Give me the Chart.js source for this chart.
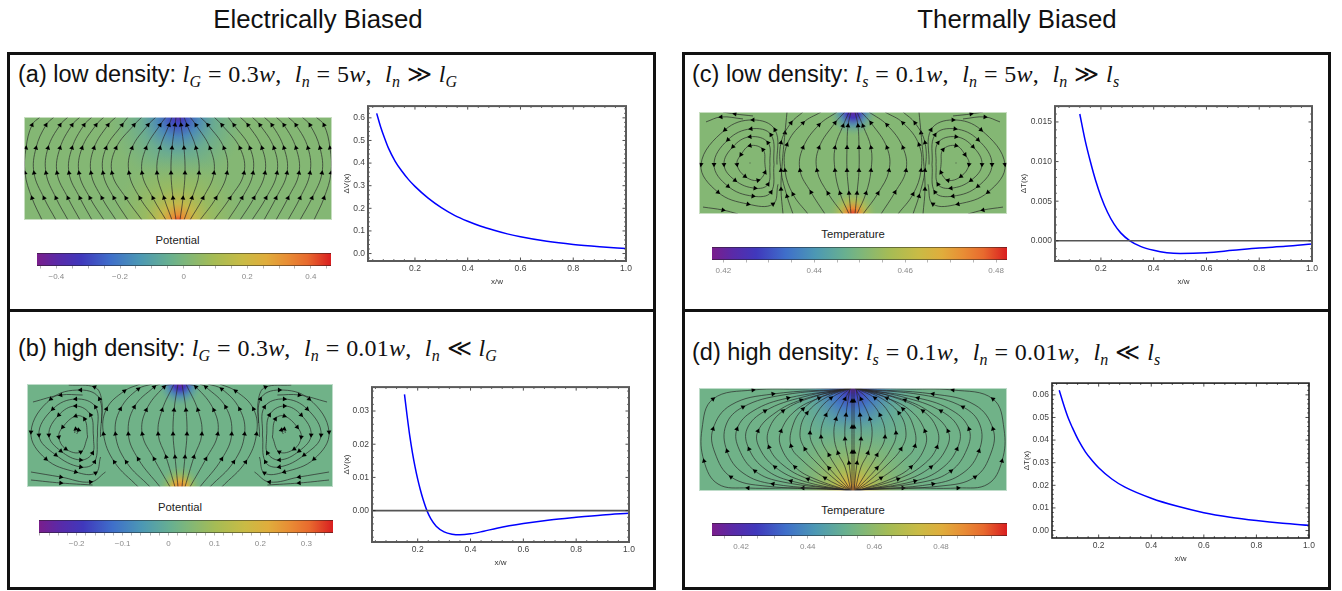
<!DOCTYPE html>
<html><head><meta charset="utf-8">
<script src="https://cdn.jsdelivr.net/npm/chart.js@4"></script>
<style>
html,body{margin:0;padding:0;background:#fff;overflow:hidden}
body{position:relative;width:1342px;height:591px;font-family:"Liberation Sans",Arial,sans-serif;color:#111}
.frame{position:absolute;border:3px solid #111;box-sizing:border-box}
.abs{position:absolute;white-space:pre}
.sec{font-size:25.8px;transform:translateX(-50%)}
.head{font-size:23.5px;line-height:26px}
.head .m{font-family:"Liberation Serif",serif;font-size:24px;letter-spacing:.2px;word-spacing:.5px}
.head i{font-style:italic}
.head sub{font-size:16px;font-style:italic;vertical-align:-5px;line-height:0}
.cbt{font-size:11.3px;transform:translateX(-50%);color:#222}
canvas{position:absolute;display:block}
</style></head><body>
<div class="abs sec" style="left:318px;top:5px">Electrically Biased</div>
<div class="abs sec" style="left:1017px;top:5px">Thermally Biased</div>
<div class="frame" style="left:7px;top:52px;width:649px;height:260px"></div>
<div class="frame" style="left:7px;top:309px;width:649px;height:281px"></div>
<div class="frame" style="left:682px;top:52px;width:649px;height:260px"></div>
<div class="frame" style="left:682px;top:309px;width:649px;height:281px"></div>
<div class="abs head" style="left:18px;top:61px">(a) low density: <span class="m"><i>l<sub>G</sub></i> = 0.3<i>w</i>,  <i>l<sub>n</sub></i> = 5<i>w</i>,  <i>l<sub>n</sub></i> ≫ <i>l<sub>G</sub></i></span></div>
<div class="abs head" style="left:18px;top:335px">(b) high density: <span class="m"><i>l<sub>G</sub></i> = 0.3<i>w</i>,  <i>l<sub>n</sub></i> = 0.01<i>w</i>,  <i>l<sub>n</sub></i> ≪ <i>l<sub>G</sub></i></span></div>
<div class="abs head" style="left:692px;top:61px">(c) low density: <span class="m"><i>l<sub>s</sub></i> = 0.1<i>w</i>,  <i>l<sub>n</sub></i> = 5<i>w</i>,  <i>l<sub>n</sub></i> ≫ <i>l<sub>s</sub></i></span></div>
<div class="abs head" style="left:692px;top:339px">(d) high density: <span class="m"><i>l<sub>s</sub></i> = 0.1<i>w</i>,  <i>l<sub>n</sub></i> = 0.01<i>w</i>,  <i>l<sub>n</sub></i> ≪ <i>l<sub>s</sub></i></span></div>
<div class="abs cbt" style="left:177.5px;top:234px">Potential</div>
<div class="abs cbt" style="left:180px;top:501px">Potential</div>
<div class="abs cbt" style="left:853px;top:228px">Temperature</div>
<div class="abs cbt" style="left:853px;top:504px">Temperature</div>
<script>
// ---------- curve values ----------
const aX=[.055,.07,.085,.1,.125,.15,.175,.2,.25,.3,.35,.4,.45,.5,.55,.6,.7,.8,.9,1];
const aY=[.62,.56,.51,.465,.408,.365,.328,.297,.245,.203,.169,.143,.121,.103,.087,.074,.054,.04,.03,.022];
const bX=[.15,.16,.17,.18,.19,.2,.21,.22,.235,.25,.27,.3,.33,.36,.4,.45,.5,.6,.7,.8,.9,1];
const bY=[.035,.0285,.0225,.0175,.0132,.0095,.0063,.0035,0,-.0025,-.0047,-.0064,-.0071,-.0073,-.007,-.0062,-.0053,-.0039,-.0028,-.002,-.0013,-.0008];
const cX=[.12,.14,.16,.18,.2,.225,.25,.275,.31,.35,.4,.45,.5,.6,.7,.8,.9,1];
const cY=[.016,.0127,.01,.0076,.0056,.0036,.0021,.0010,0,-.0007,-.0012,-.0015,-.0016,-.0015,-.0012,-.0009,-.0007,-.0004];
const dX=[.05,.07,.085,.1,.125,.15,.175,.2,.25,.3,.4,.5,.6,.7,.8,.9,1];
const dY=[.062,.0545,.0495,.0455,.0395,.0347,.031,.0278,.0228,.0192,.0143,.0107,.0079,.0059,.0044,.0032,.0023];
const xTicks=[.2,.4,.6,.8,1];
const aYTicks=[0,.1,.2,.3,.4,.5,.6];
const bYTicks=[0,.01,.02,.03];
const cYTicks=[0,.005,.01,.015];
const dYTicks=[0,.01,.02,.03,.04,.05,.06];
// ---------- colour-bar tick labels ----------
const aBarLabels=[-.4,-.2,0,.2,.4];
const bBarLabels=[-.2,-.1,0,.1,.2,.3];
const cBarLabels=[.42,.44,.46,.48];
const dBarLabels=[.42,.44,.46,.48];
// ---------- streamlines, half panel (x from centre, y from bottom; third value 0 = no arrowhead) ----------
const aStreams=[
[[2,0],[5,22],[7,47],[6,72],[3,95],[2,103]],
[[6,0],[14,22],[21,47],[18,72],[9,95],[6,103]],
[[12,0],[25,22],[36,47],[32,72],[18,95],[12,103]],
[[22,0],[38,22],[49,47],[46,72],[30,95],[22,103]],
[[36,0],[52,22],[66,47],[62,72],[44,95],[36,103]],
[[50,0],[64,22],[75,47],[72,72],[56,95],[50,103]],
[[62,0],[76,22],[87,47],[84,72],[70,95],[62,103]],
[[74,0],[88,22],[99,47],[96,72],[82,95],[74,103]],
[[86,0],[98,22],[109,47],[106,72],[94,95],[86,103]],
[[98,0],[110,22],[121,47],[118,72],[106,95],[98,103]],
[[110,0],[122,22],[132,47],[130,72],[118,95],[110,103]],
[[122,0],[134,22],[144,47],[142,72],[132,95],[124,103]],
[[136,0],[146,22],[153,47],[152,72],[146,95],[138,103]]];
const bStreams=[
[[2,0],[5,30],[7,53],[6,77],[2,103]],
[[5,0],[14,30],[22,53],[18,77],[6,103]],
[[10,0],[26,28],[38,53],[34,77],[16,100],[8,103]],
[[20,0],[42,28],[52,53],[46,80],[26,100],[20,103]],
[[30,0],[54,25],[65,53],[60,78],[42,98],[28,103]],
[[42,0],[66,25],[77,53],[74,78],[56,96],[40,103]],
[[104,53],[102,57],[105,58],[106,54]],
[[93,50],[96,68],[105,71],[118,60],[122,50],[115,38],[100,35],[93,50]],
[[87,50],[90,72],[105,81],[122,72],[132,52],[120,36],[100,27],[88,34],[87,50]],
[[83,52],[85,80],[105,88],[128,78],[142,52],[125,32],[100,20],[86,25],[83,52]],
[[80,50],[81,88],[100,97],[130,88],[150,55],[135,28],[105,15],[85,14],[80,30]],
[[79,64],[79,88,0],[86,100],[112,102]],
[[98,92],[120,92],[148,85]],
[[150,15],[120,10],[90,5],[75,15]],
[[150,7],[120,4],[88,2]]];
const cStreams=[
[[2,0],[4,21],[6,44],[6,67],[5,89],[2,103]],
[[4,0],[13,21],[18,44],[18,67],[10,89],[4,103]],
[[10,0],[25,21],[36,44],[34,67],[18,92],[8,103]],
[[28,0],[42,22],[53,44],[50,67],[34,90],[16,103]],
[[45,0],[60,20],[68,44],[66,70],[50,92],[32,103]],
[[60,0],[66,18],[72,44],[72,72],[62,92],[50,103]],
[[103,51],[103,52]],
[[88,50],[90,65],[103,69],[112,60],[116,50],[108,38],[95,34],[88,42],[88,50]],
[[83,50],[85,72],[103,78],[120,68],[129,50],[118,34],[98,26],[85,30],[83,50]],
[[79,50],[82,80],[102,86],[125,75],[139,50],[125,28],[100,18],[82,22],[79,50]],
[[76,50],[78,85],[100,95],[128,85],[152,50],[135,22],[105,10],[80,10],[75,30]],
[[70,0],[72,25],[71,48,0],[68,82],[66,103]],
[[100,99],[118,101],[130,103]],
[[110,96],[132,98],[147,93]],
[[150,7],[130,4],[115,0]]];
const dStreams=[
[[1,0],[1,39],[1,64],[1,90],[1,103]],
[[1,0],[4,28],[8,52],[7,76],[3,103]],
[[2,0],[8,24,0],[15,38],[19,55,0],[17,72],[8,92],[2,103]],
[[2,0],[13,18,0],[24,36],[32,54],[27,76],[13,94,0],[2,103]],
[[2,0],[24,23],[38,42,0],[43,58],[36,78,0],[22,93],[2,103]],
[[2,0],[16,10,0],[36,28,0],[48,42],[53,58,0],[46,78],[26,94,0],[2,103]],
[[2,0],[28,13],[50,30,0],[62,45],[60,66,0],[50,82],[30,95,0],[2,103]],
[[3,0],[38,12,0],[58,24],[72,44,0],[72,60],[58,80,0],[34,93],[3,103]],
[[3,0],[45,12],[70,26,0],[84,44],[84,62,0],[70,80],[40,94,0],[3,103]],
[[3,0],[50,10,0],[78,24],[94,44,0],[95,60],[78,78,0],[52,91],[3,103]],
[[3,0],[62,10],[88,22,0],[104,42],[106,62,0],[88,80],[50,94,0],[3,103]],
[[4,1],[70,9,0],[98,20],[114,42,0],[116,62],[100,80,0],[65,93],[4,102]],
[[4,1],[80,7],[110,18,0],[126,40],[127,66,0],[110,84],[70,96,0],[4,102]],
[[4,1],[88,5,0],[122,14],[138,38,0],[140,62],[122,86,0],[80,97],[4,102]],
[[4,1],[50,3],[105,3],[135,7,0],[149,30],[151,62,0],[140,92],[100,101],[50,102,0],[4,103]]];
// ---------- colour map ----------
const rainbow=[[0,'#7a1e8c'],[.07,'#5a2aa8'],[.15,'#4038bc'],[.25,'#3f6fca'],[.35,'#4c98b4'],[.45,'#68b090'],[.5,'#7cb67c'],[.6,'#a5bc55'],[.7,'#c9bb45'],[.78,'#e0ad3c'],[.85,'#e88e35'],[.92,'#e86a2e'],[1,'#d91e20']];
function hex(c){return [1,3,5].map(i=>parseInt(c.slice(i,i+2),16));}
function cm(t,a=1){
  let i=0;while(i<rainbow.length-2&&t>rainbow[i+1][0])i++;
  const [t0,c0]=rainbow[i],[t1,c1]=rainbow[i+1],f=Math.min(1,Math.max(0,(t-t0)/(t1-t0)));
  const A=hex(c0),B=hex(c1),m=A.map((v,k)=>Math.round(v+(B[k]-v)*f));
  return `rgba(${m[0]},${m[1]},${m[2]},${a})`;
}
function range(a,b,s){const o=[];const n=Math.round((b-a)/s);for(let i=0;i<=n;i++)o.push(+(a+i*s).toFixed(6));return o;}
Chart.defaults.font.family='"Liberation Sans",Arial,sans-serif';
Chart.defaults.animation=false;
function mk(left,top,w,h){const c=document.createElement('canvas');c.width=w;c.height=h;c.style.left=left+'px';c.style.top=top+'px';c.style.width=w+'px';c.style.height=h+'px';document.body.appendChild(c);return c;}
// ---------- line plots ----------
function plot(o){
  const yw=o.plotL-o.canL, W=o.plotR-o.plotL, H=o.plotB-o.plotT;
  const c=mk(o.canL,o.plotT-4,yw+W+12,H+4+27);
  const ds=[{data:o.x.map((v,i)=>({x:v,y:o.y[i]})),borderColor:'#0000ff',borderWidth:1.5,pointRadius:0,showLine:true,cubicInterpolationMode:'monotone'}];
  if(o.zero)ds.unshift({data:[{x:o.xmin,y:0},{x:1,y:0}],borderColor:'#555',borderWidth:1.6,pointRadius:0,showLine:true});
  const ticksPlugin={id:'frm',afterDraw(ch){
    const g=ch.ctx,a=ch.chartArea,sx=ch.scales.x,sy=ch.scales.y;
    g.save();g.strokeStyle='#222';g.lineWidth=.8;g.beginPath();
    const near=(v,l)=>l.some(q=>Math.abs(q-v)<1e-6);
    range(.04,1,.04).forEach(v=>{if(v<o.xmin)return;const p=sx.getPixelForValue(v),L=near(v,xTicks)?3.5:1.8;
      g.moveTo(p,a.bottom);g.lineTo(p,a.bottom-L);g.moveTo(p,a.top);g.lineTo(p,a.top+L);});
    o.yMinor.forEach(v=>{if(v<o.ymin||v>o.ymax)return;const p=sy.getPixelForValue(v),L=near(v,o.yTicks)?3.5:1.8;
      g.moveTo(a.left,p);g.lineTo(a.left+L,p);g.moveTo(a.right,p);g.lineTo(a.right-L,p);});
    g.stroke();g.strokeStyle=o.frame||'#5a5a5a';g.lineWidth=o.fw||2;g.strokeRect(a.left,a.top,a.right-a.left,a.bottom-a.top);g.restore();
  }};
  new Chart(c,{type:'scatter',data:{datasets:ds},plugins:[ticksPlugin],options:{responsive:false,
    layout:{autoPadding:false,padding:{left:0,top:4,right:12,bottom:0}},
    plugins:{legend:{display:false},tooltip:{enabled:false}},
    scales:{
      x:{type:'linear',min:o.xmin,max:1,afterFit:s=>{s.height=27;},afterBuildTicks:s=>{s.ticks=xTicks.map(v=>({value:v}));},
        grid:{display:false,drawTicks:false},border:{display:false},
        ticks:{padding:3,color:'#444',font:{size:8.5},autoSkip:false,maxRotation:0,callback:v=>v.toFixed(1)},
        title:{display:true,text:'x/w',color:'#333',font:{size:8},padding:{top:0,bottom:1}}},
      y:{type:'linear',min:o.ymin,max:o.ymax,afterFit:s=>{s.width=yw;},afterBuildTicks:s=>{s.ticks=o.yTicks.map(v=>({value:v}));},
        grid:{display:false,drawTicks:false},border:{display:false},
        ticks:{padding:3,color:'#444',font:{size:8.5},autoSkip:false,callback:v=>v.toFixed(o.dec)},
        title:{display:true,text:o.ylabel,color:'#333',font:{size:8},padding:{top:1,bottom:0}}}
    }}});
}
plot({canL:341,plotL:368,plotR:626,plotT:102,plotB:261,x:aX,y:aY,xmin:.022,ymin:-.033,ymax:.652,yTicks:aYTicks,yMinor:range(-.02,.64,.02),dec:1,ylabel:'ΔV(x)'});
plot({canL:341,plotL:372,plotR:629,plotT:383,plotB:542,x:bX,y:bY,xmin:.027,ymin:-.00945,ymax:.0372,yTicks:bYTicks,yMinor:range(-.008,.036,.002),dec:2,ylabel:'ΔV(x)',zero:true});
plot({canL:1018,plotL:1055,plotR:1312,plotT:102,plotB:261,x:cX,y:cY,xmin:.026,ymin:-.00255,ymax:.017,yTicks:cYTicks,yMinor:range(-.002,.016,.001),dec:3,ylabel:'ΔT(x)',zero:true});
plot({canL:1021,plotL:1052,plotR:1309,plotT:379,plotB:538,x:dX,y:dY,xmin:.0225,ymin:-.0033,ymax:.0652,yTicks:dYTicks,yMinor:range(-.002,.064,.002),dec:2,ylabel:'ΔT(x)',frame:'#222',fw:1.6});
// ---------- colour bars ----------
function bar(o){
  const W=o.r-o.l,H=o.b-o.t;
  const c=mk(o.l-10,o.t-1,W+20,H+1+22);
  const grad={id:'grad',beforeDatasetsDraw(ch){
    const g=ch.ctx,a=ch.chartArea,lg=g.createLinearGradient(a.left,0,a.right,0);
    rainbow.forEach(s=>lg.addColorStop(s[0],s[1]));
    g.fillStyle=lg;g.fillRect(a.left,a.top,a.right-a.left,a.bottom-a.top);
    g.fillStyle='rgba(30,30,30,.7)';g.fillRect(a.left,a.top,a.right-a.left,.7);g.fillRect(a.left,a.bottom-.7,a.right-a.left,.7);
  }};
  new Chart(c,{type:'scatter',data:{datasets:[{data:[]}]},plugins:[grad],options:{responsive:false,
    layout:{autoPadding:false,padding:{left:10,right:10,top:1,bottom:0}},
    plugins:{legend:{display:false},tooltip:{enabled:false}},
    scales:{
      y:{display:false,min:0,max:1},
      x:{type:'linear',min:o.min,max:o.max,afterFit:s=>{s.height=22;},afterBuildTicks:s=>{s.ticks=o.minor.map(v=>({value:v}));},
        border:{display:false},grid:{drawOnChartArea:false,tickLength:2.5,tickColor:'#b5b5b5',tickWidth:1},
        ticks:{padding:3,color:'#8a8a8a',font:{size:8},autoSkip:false,maxRotation:0,
          callback:v=>{const m=o.labels.find(q=>Math.abs(q-v)<1e-6);return m===undefined?'':o.fmt(m);}}}
    }}});
}
const mfmt=d=>v=>(v<0?'−':'')+(v===0?'0':Math.abs(v).toFixed(d));
bar({l:37,r:331,t:253,b:266,min:-.461,max:.4635,minor:range(-.45,.45,.05),labels:aBarLabels,fmt:mfmt(1)});
bar({l:39,r:333,t:520,b:533,min:-.282,max:.358,minor:range(-.28,.34,.02),labels:bBarLabels,fmt:mfmt(1)});
bar({l:712,r:1007,t:247,b:260,min:.4175,max:.4824,minor:range(.42,.48,.005),labels:cBarLabels,fmt:mfmt(2)});
bar({l:712,r:1007,t:523,b:536,min:.41125,max:.4998,minor:range(.415,.495,.005),labels:dBarLabels,fmt:mfmt(2)});
// ---------- stream plots ----------
function stream(o){
  const W=o.r-o.l,H=o.b-o.t;
  const c=mk(o.l,o.t,W,H);
  const heat={id:'heat',beforeDatasetsDraw(ch){
    const g=ch.ctx,a=ch.chartArea,sx=ch.scales.x,sy=ch.scales.y;
    g.save();g.beginPath();g.rect(a.left,a.top,a.right-a.left,a.bottom-a.top);g.clip();
    g.fillStyle=cm(o.base);g.fillRect(a.left,a.top,a.right-a.left,a.bottom-a.top);
    o.blobs.forEach(b=>{
      const px=sx.getPixelForValue(0),py=sy.getPixelForValue(b.y);
      g.save();g.translate(px,py);g.scale(1,b.sy||1);
      const R=b.R,rg=g.createRadialGradient(0,0,0,0,0,R);
      b.stops.forEach(s=>rg.addColorStop(s[0],cm(s[1],s[2])));
      g.fillStyle=rg;g.fillRect(-R,-R,2*R,2*R);g.restore();
    });
    g.restore();
  },afterDraw(ch){const g=ch.ctx,a=ch.chartArea;g.save();g.strokeStyle='rgba(255,255,255,.55)';g.lineWidth=1;g.strokeRect(a.left+.5,a.top+.5,a.right-a.left-1,a.bottom-a.top-1);g.restore();}};
  const sets=[];
  [1,-1].forEach(sign=>o.streams.forEach(line=>{
    const pts=line.map(p=>({x:sign*p[0],y:p[1]}));
    const rot=pts.map((p,i)=>{const q=pts[Math.min(i+1,pts.length-1)],r=pts[Math.max(i-1,0)];return Math.atan2(q.x-r.x,q.y-r.y)*180/Math.PI;});
    sets.push({data:pts,showLine:true,tension:.4,borderColor:'#2a2a2a',borderWidth:.7,
      pointStyle:'triangle',pointRotation:rot,pointBackgroundColor:'#000',pointBorderWidth:0,
      pointRadius:pts.map((p,i)=>(i===0||i===pts.length-1||line[i][2]===0)?0:2.8)});
  }));
  new Chart(c,{type:'scatter',data:{datasets:sets},plugins:[heat],options:{responsive:false,
    layout:{autoPadding:false,padding:0},
    plugins:{legend:{display:false},tooltip:{enabled:false}},
    scales:{x:{display:false,type:'linear',min:-154,max:154},y:{display:false,type:'linear',min:0,max:103}}}});
}
stream({l:24,r:332,t:117,b:220,base:.52,streams:aStreams,blobs:[
 {y:103,R:68,stops:[[0,.09,1],[.1,.18,1],[.3,.3,.9],[.55,.4,.6],[1,.46,0]]},
 {y:0,R:66,stops:[[0,.95,1],[.08,.85,1],[.25,.72,.85],[.5,.6,.6],[1,.56,0]]}]});
stream({l:27,r:333,t:384,b:487,base:.47,streams:bStreams,blobs:[
 {y:103,R:22,stops:[[0,.03,1],[.25,.14,1],[.55,.28,.7],[1,.42,0]]},
 {y:0,R:22,stops:[[0,.88,1],[.3,.78,.95],[.6,.6,.6],[1,.5,0]]}]});
stream({l:699,r:1007,t:112,b:214,base:.52,streams:cStreams,blobs:[
 {y:103,R:24,stops:[[0,.05,1],[.25,.14,1],[.55,.3,.7],[1,.46,0]]},
 {y:0,R:24,stops:[[0,.97,1],[.25,.85,1],[.55,.68,.7],[1,.55,0]]}]});
stream({l:699,r:1007,t:388,b:491,base:.47,streams:dStreams,blobs:[
 {y:103,R:72,stops:[[0,.03,1],[.1,.16,1],[.3,.26,.9],[.6,.38,.55],[1,.44,0]]},
 {y:0,R:72,stops:[[0,.88,1],[.12,.76,1],[.3,.64,.85],[.6,.55,.5],[1,.5,0]]}]});
</script>
</body></html>
